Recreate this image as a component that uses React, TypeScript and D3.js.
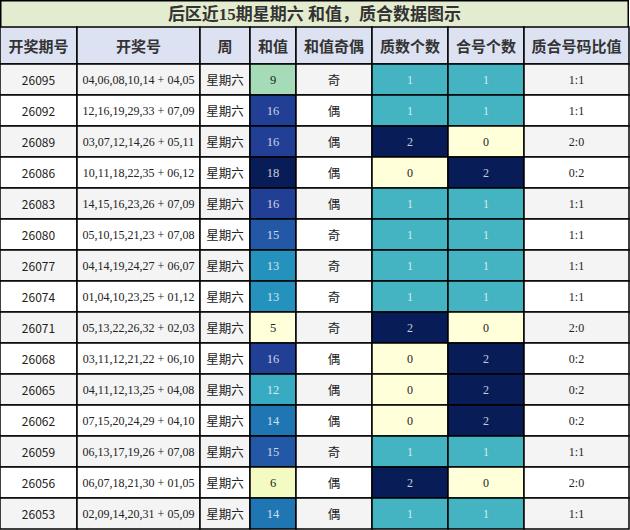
import { scaleBand, scaleSequential, interpolateYlGnBu, cumsum } from 'd3';

const title = '后区近15期星期六 和值，质合数据图示';
const headers = ['开奖期号', '开奖号', '周', '和值', '和值奇偶', '质数个数', '合号个数', '质合号码比值'];

const periods = ['26095', '26092', '26089', '26086', '26083', '26080', '26077', '26074', '26071', '26068', '26065', '26062', '26059', '26056', '26053'];
const draws = [
  '04,06,08,10,14 + 04,05',
  '12,16,19,29,33 + 07,09',
  '03,07,12,14,26 + 05,11',
  '10,11,18,22,35 + 06,12',
  '14,15,16,23,26 + 07,09',
  '05,10,15,21,23 + 07,08',
  '04,14,19,24,27 + 06,07',
  '01,04,10,23,25 + 01,12',
  '05,13,22,26,32 + 02,03',
  '03,11,12,21,22 + 06,10',
  '04,11,12,13,25 + 04,08',
  '07,15,20,24,29 + 04,10',
  '06,13,17,19,26 + 07,08',
  '06,07,18,21,30 + 01,05',
  '02,09,14,20,31 + 05,09',
];
const weekday = '星期六';
const sums = [9, 16, 16, 18, 16, 15, 13, 13, 5, 16, 12, 14, 15, 6, 14];
const parity = ['奇', '偶', '偶', '偶', '偶', '奇', '奇', '奇', '奇', '偶', '偶', '偶', '奇', '偶', '偶'];
const primeCounts = [1, 1, 2, 0, 1, 1, 1, 1, 2, 0, 0, 0, 1, 2, 1];
const compositeCounts = [1, 1, 0, 2, 1, 1, 1, 1, 0, 2, 2, 2, 1, 0, 1];
const ratios = ['1:1', '1:1', '2:0', '0:2', '1:1', '1:1', '1:1', '1:1', '2:0', '0:2', '0:2', '0:2', '1:1', '2:0', '1:1'];

const W = 630;
const H = 530;
const colWidths = [77, 123, 50, 46, 76, 76, 76, 105];
const titleH = 27;
const headH = 37;

const SERIF = '"Liberation Serif", "Noto Sans CJK SC", serif';
const SANS = '"Noto Sans CJK SC", "DejaVu Sans", sans-serif';

const App = () => {
  const xs = [0, ...Array.from(cumsum(colWidths))];
  const tableW = xs[xs.length - 1];

  const y = scaleBand<string>()
    .domain(periods)
    .range([titleH + headH, H - 1])
    .padding(0);

  const sumColor = scaleSequential(interpolateYlGnBu).domain([5, 18]);
  const countColor = scaleSequential(interpolateYlGnBu).domain([0, 2]);
  const textOn = (t: number) => (t > 0.45 ? 'rgba(255,255,255,0.78)' : '#222');

  const cell = (
    key: string,
    ci: number,
    top: number,
    h: number,
    fill: string,
    text: string,
    font: string,
    size: number,
    color: string,
    weight = 'normal',
  ) => (
    <g key={key}>
      <rect x={xs[ci]} y={top} width={colWidths[ci]} height={h} fill={fill} stroke="#000" strokeWidth={1.5} />
      <text
        x={xs[ci] + colWidths[ci] / 2}
        y={top + h / 2}
        textAnchor="middle"
        dominantBaseline="central"
        fontFamily={font}
        fontSize={size}
        fontWeight={weight}
        fill={color}
      >
        {text}
      </text>
    </g>
  );

  return (
    <svg width={W} height={H} style={{ position: 'absolute', left: 0, top: 0 }}>
      <rect x={0.75} y={0.75} width={tableW - 1.5} height={titleH} fill="#e4ecd0" stroke="#000" strokeWidth={1.5} />
      <text
        x={tableW / 2}
        y={titleH / 2 + 1}
        textAnchor="middle"
        dominantBaseline="central"
        fontFamily={SERIF}
        fontSize={17}
        fontWeight="bold"
        fill="#333"
      >
        {title}
      </text>
      {headers.map((h, i) => cell(`h${i}`, i, titleH, headH, '#dde2f2', h, SANS, 15, '#333', 'bold'))}
      {periods.map((p, r) => {
        const top = y(p) as number;
        const h = y.bandwidth();
        const bg = r % 2 === 0 ? '#f4f4f4' : '#ffffff';
        const s = sums[r];
        const st = (s - 5) / 13;
        const pc = primeCounts[r];
        const cc = compositeCounts[r];
        return (
          <g key={p}>
            {cell(`p${r}`, 0, top, h, bg, p, SANS, 12, '#222')}
            {cell(`d${r}`, 1, top, h, bg, draws[r], SERIF, 12, '#222')}
            {cell(`w${r}`, 2, top, h, bg, weekday, SANS, 12.5, '#222')}
            {cell(`s${r}`, 3, top, h, sumColor(s), String(s), SERIF, 12.5, textOn(st))}
            {cell(`o${r}`, 4, top, h, bg, parity[r], SANS, 12.5, '#222')}
            {cell(`pc${r}`, 5, top, h, countColor(pc), String(pc), SERIF, 12, textOn(pc / 2))}
            {cell(`cc${r}`, 6, top, h, countColor(cc), String(cc), SERIF, 12, textOn(cc / 2))}
            {cell(`r${r}`, 7, top, h, bg, ratios[r], SERIF, 12, '#222')}
          </g>
        );
      })}
    </svg>
  );
};

export default App;
